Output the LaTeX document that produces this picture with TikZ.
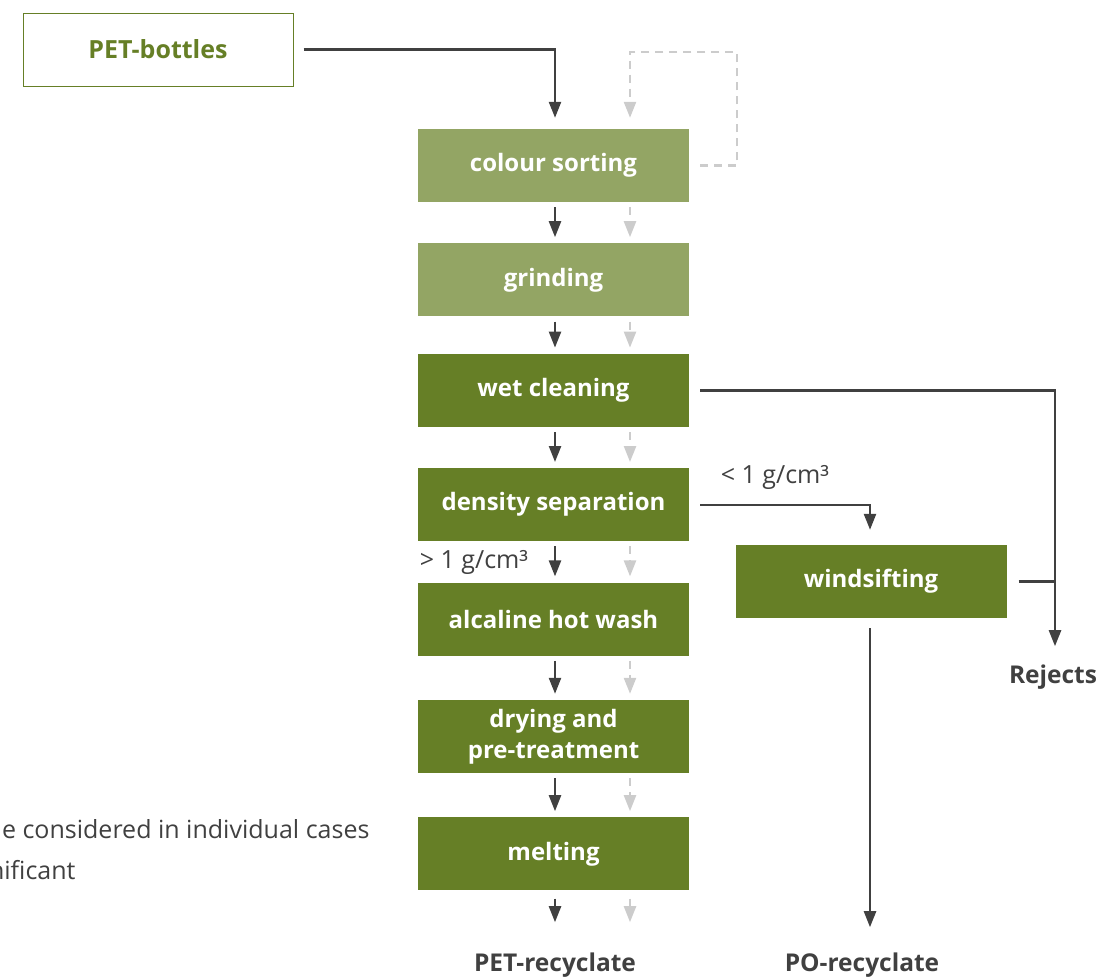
\documentclass[tikz,border=0pt]{standalone}
\usepackage{fontspec}
\setmainfont{Open Sans}
\usepackage{xcolor}
\usetikzlibrary{arrows.meta, positioning}
\definecolor{leafgreen}{HTML}{93A564}
\definecolor{olivegreen}{HTML}{667F26}
\definecolor{linegray}{HTML}{404040}
\definecolor{ghostgray}{HTML}{CCCCCC}
\tikzstyle{process} = [rectangle, minimum width=271pt, minimum height=73pt, text centered, fill=olivegreen, text=white, font=\bfseries\fontsize{24}{31}\selectfont, align=center, inner sep=0pt]
\tikzstyle{label} = [text=linegray, font=\fontsize{25}{27}\selectfont]
\tikzstyle{outlabel} = [text=linegray, font=\bfseries\fontsize{24.5}{26}\selectfont]
\tikzstyle{arrow} = [line width=2.4pt, draw=linegray, -{Triangle[length=16pt,width=12pt]}]
\tikzstyle{ghost} = [line width=2.4pt, draw=ghostgray, dash pattern=on 8pt off 6pt, -{Triangle[length=16pt,width=12pt]}]

\begin{document}
\begin{tikzpicture}[x=1pt, y=-1pt, node distance=41pt]
    \useasboundingbox (0,0) rectangle (1099,978);
    \node (pet) [rectangle, minimum width=270pt, minimum height=73pt, draw=olivegreen, line width=1pt, text=olivegreen, font=\bfseries\fontsize{25}{26}\selectfont] at (158,49.5) {PET-bottles};
    \node (cs) [process, fill=leafgreen] at (553.5,165.5) {colour sorting};
    \node (gr) [process, fill=leafgreen, below=of cs] {grinding};
    \node (wc) [process, below=37pt of gr] {wet cleaning};
    \node (ds) [process, below=of wc] {density separation};
    \node (aw) [process, below=of ds] {alcaline hot wash};
    \node (dp) [process, below=44pt of aw] {drying and\\pre-treatment};
    \node (me) [process, below=44pt of dp] {melting};
    \node (ws) [process] at (871,581.5) {windsifting};
    \node (petr) [outlabel] at (555,965) {PET-recyclate};
    \node (por) [outlabel] at (862,965) {PO-recyclate};
    \node (rej) [outlabel] at (1053,677) {Rejects};
    \node (lt) [label] at (775,477) {< 1 g/cm³};
    \node (gt) [label] at (474,562) {> 1 g/cm³};
    \node (n1) [label, anchor=east] at (373,829) {e considered in individual cases};
    \node (n2) [label, anchor=east] at (79,870) {nificant};
    \coordinate (loop) at (737,52);
    \coordinate (join) at (1055,579);

    % main line and bypass line
    \draw[arrow, shorten <=10pt, shorten >=11pt] (pet.east) -| ([xshift=1.5pt]cs.north);
    \draw[ghost, shorten >=11pt] ([xshift=11pt]cs.east) -| (loop) -| ([xshift=76.5pt]cs.north);
    \foreach \a/\b in {cs/gr, gr/wc, wc/ds, ds/aw, aw/dp, dp/me} {
        \draw[arrow, shorten <=5pt, shorten >=6pt] ([xshift=1.5pt]\a.south) -- ([xshift=1.5pt]\b.north);
        \draw[ghost, shorten <=5pt, shorten >=6pt] ([xshift=76.5pt]\a.south) -- ([xshift=76.5pt]\b.north);
    }
    \draw[arrow, shorten <=8pt, shorten >=27pt] ([xshift=1.5pt]me.south) -- (petr.north);
    \draw[ghost, shorten <=8pt, shorten >=27pt] ([xshift=76.5pt]me.south) -- (petr.north -| {(630,0)});

    % side streams
    \draw[arrow, shorten <=11pt, shorten >=15pt] (ds.east) -| ([xshift=-1pt]ws.north);
    \draw[arrow, shorten <=11pt, shorten >=15pt] (wc.east) -| (join) -- ([xshift=2pt]rej.north);
    \draw[line width=2.4pt, draw=linegray, shorten <=12pt] (ws.east) -- (ws.east -| join);
    \draw[arrow, shorten <=10pt, shorten >=22pt] ([xshift=-1pt]ws.south) -- (por.north -| {(870,0)});
\end{tikzpicture}
\end{document}
